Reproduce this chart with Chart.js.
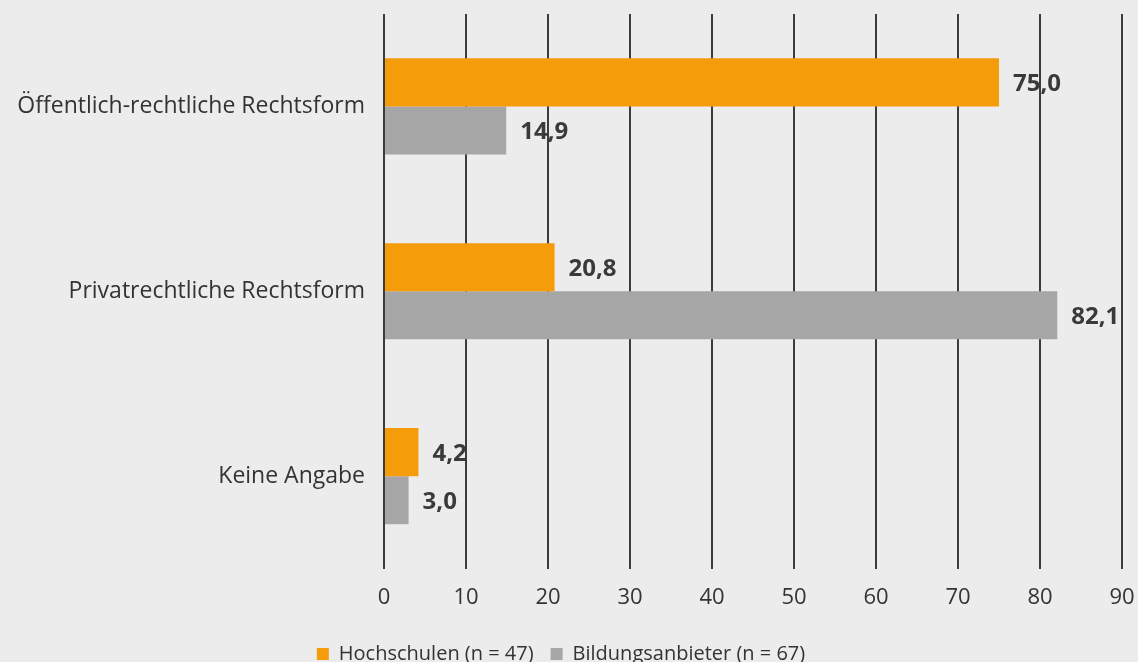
<!DOCTYPE html>
<html>
<head>
<meta charset="utf-8">
<script src="https://cdn.jsdelivr.net/npm/chart.js@4"></script>
<style>
  html, body { margin: 0; padding: 0; background: #ececec; overflow: hidden; }
  #wrap { width: 1138px; height: 674px; position: relative; }
</style>
</head>
<body>
<div id="wrap"><canvas id="chart"></canvas></div>
<script>
var categories = ['Öffentlich-rechtliche Rechtsform', 'Privatrechtliche Rechtsform', 'Keine Angabe'];
var hochschulen = [75.0, 20.8, 4.2];
var bildungsanbieter = [14.9, 82.1, 3.0];
var seriesNames = ['Hochschulen (n = 47)', 'Bildungsanbieter (n = 67)'];
var xTicks = [0, 10, 20, 30, 40, 50, 60, 70, 80, 90];

var font = "'Open Sans', 'Noto Sans', sans-serif";

// draws the value next to each bar end
var valueLabels = {
    id: 'valueLabels',
    afterDatasetsDraw(chart) {
        let ctx = chart.ctx;
        ctx.save();
        ctx.font = 'bold 24px ' + font;
        ctx.fillStyle = '#3a3a3a';
        ctx.textBaseline = 'middle';
        chart.data.datasets.forEach((ds, i) => {
            chart.getDatasetMeta(i).data.forEach((bar, j) => {
                ctx.fillText(ds.data[j].toFixed(1).replace('.', ','), bar.x + 14, bar.y + 2);
            });
        });
        ctx.restore();
    }
};

new Chart('chart', {
    type: 'bar',
    data: {
        labels: categories,
        datasets: [{
            label: seriesNames[0],
            data: hochschulen,
            backgroundColor: '#f59c0a',
            categoryPercentage: 0.52,
            barPercentage: 1.0
        }, {
            label: seriesNames[1],
            data: bildungsanbieter,
            backgroundColor: '#a6a6a6',
            categoryPercentage: 0.52,
            barPercentage: 1.0
        }]
    },
    options: {
        indexAxis: 'y',
        responsive: true,
        maintainAspectRatio: false,
        animation: false,
        layout: { padding: { top: 14, right: 16, left: 0, bottom: 0 } },
        scales: {
            x: {
                min: 0, max: 90,
                afterBuildTicks: s => { s.ticks = xTicks.map(v => ({ value: v })); },
                grid: { color: '#3c3c3c', lineWidth: 2, drawTicks: false },
                border: { display: false },
                ticks: { color: '#333', font: { family: font, size: 22 }, padding: 16 },
                afterFit: s => { s.paddingLeft = 0; s.paddingRight = 0; }
            },
            y: {
                grid: { display: false, drawTicks: false },
                border: { display: false },
                ticks: { color: '#333', font: { family: font, size: 23 }, padding: 19 },
                afterFit: s => { s.width = 384; s.paddingTop = 0; s.paddingBottom = 0; }
            }
        },
        plugins: {
            legend: {
                position: 'bottom',
                labels: {
                    color: '#333',
                    font: { family: font, size: 20 },
                    boxWidth: 12, boxHeight: 12,
                    padding: 17
                }
            },
            tooltip: { enabled: false }
        }
    },
    plugins: [valueLabels]
});
</script>
</body>
</html>
